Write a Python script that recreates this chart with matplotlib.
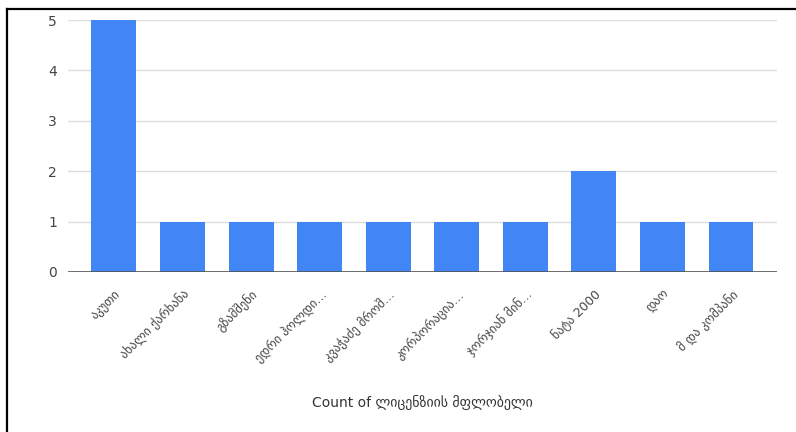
import matplotlib.pyplot as plt
from matplotlib.lines import Line2D

companies = [
    "აკუთი", "ახალი ქარხანა", "გზამშენი", "ედრი ჰოლდი…", "კვაჭაძე მროშ…",
    "კორპორაცია…", "ჯორჯიან მინ…", "ნატა 2000", "დაო", "მ და კომპანი",
]
counts = [5, 1, 1, 1, 1, 1, 1, 2, 1, 1]
yticks = [0, 1, 2, 3, 4, 5]

plt.rcParams["font.family"] = ["DejaVu Sans"]

fig = plt.figure(figsize=(7.96, 4.32), dpi=100)
ax = fig.add_axes([0.0854, 0.3704, 0.8907, 0.5833])

x = range(len(companies))
ax.bar(x, counts, width=0.655, color="#4285f4", zorder=3)

ax.set_xlim(-0.67, len(companies) - 0.33)
ax.set_ylim(0, 5)
ax.set_yticks(yticks)
ax.set_yticklabels([str(t) for t in yticks], fontsize=10, color="#444444")
ax.grid(axis="y", color="#dddddd", linewidth=1, zorder=0)
ax.axhline(0, color="#555555", linewidth=1.2, zorder=4)

ax.set_xticks(list(x))
ax.set_xticklabels(companies, rotation=45, ha="right", rotation_mode="anchor",
                   fontsize=9, color="#444444")
ax.tick_params(axis="both", length=0, pad=8)
ax.tick_params(axis="x", pad=11)
for s in ax.spines.values():
    s.set_visible(False)

ax.set_xlabel("Count of ლიცენზიის მფლობელი", fontsize=10, color="#333333", labelpad=22)

# frame lines from the screenshot
fig.add_artist(Line2D([7 / 796, 1], [1 - 9 / 432] * 2, color="black", lw=1.6))
fig.add_artist(Line2D([7 / 796] * 2, [0, 1 - 9 / 432], color="black", lw=1.6))

fig.savefig("out.png", dpi=100)
